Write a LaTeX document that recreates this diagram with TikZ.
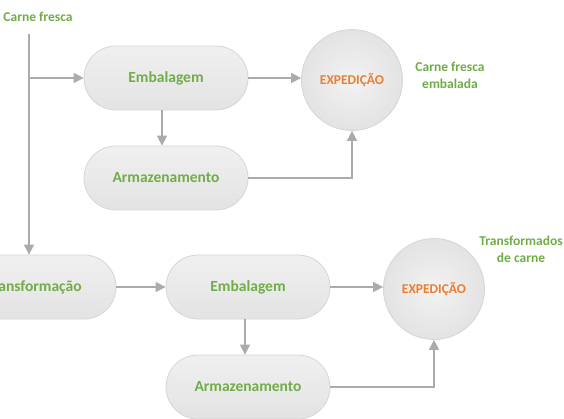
\documentclass[tikz,border=0pt]{standalone}
\usepackage{fontspec}
\setmainfont{Carlito}
\usetikzlibrary{arrows.meta,calc}
\definecolor{lblgreen}{HTML}{70AD47}
\definecolor{exporange}{HTML}{ED7D31}
\definecolor{linegray}{HTML}{ABABAB}
\definecolor{edgegray}{HTML}{D6D6D6}
\begin{document}
\begin{tikzpicture}[x=1pt,y=-1pt,
  pill/.style={rectangle, rounded corners=32pt, minimum width=164pt, minimum height=64pt,
    draw=edgegray, line width=0.8pt, top color=white!94!black, bottom color=white!89!black,
    font=\fontsize{15.5}{18}\selectfont\bfseries, text=lblgreen, inner sep=0pt},
  expcircle/.style={circle, minimum size=101pt, draw=edgegray, line width=0.8pt,
    inner color=white!95!black, outer color=white!89!black,
    font=\fontsize{13.5}{16}\selectfont\bfseries, text=exporange, inner sep=0pt},
  lbl/.style={font=\fontsize{13.5}{17}\selectfont\bfseries, text=lblgreen, align=center, inner sep=0pt},
  conn/.style={draw=linegray, line width=1.5pt},
  arr/.style={conn, -{Triangle[length=10pt,width=10pt]}}
]
\clip (0,0) rectangle (564,419);
\fill[white] (0,0) rectangle (564,419);

% top branch
\node[lbl] (cf) at (38,17) {Carne fresca};
\node[pill] (emb1) at (166,78) {Embalagem};
\node[pill] (arm1) at (166,178) {Armazenamento};
\node[expcircle] (exp1) at (352,80) {EXPEDIÇÃO};
\node[lbl] (cfe) at (450,75) {Carne fresca\\embalada};

% bottom branch
\node[pill] (transf) at (34,287) {Transformação};
\node[pill] (emb2) at (248,287) {Embalagem};
\node[pill] (arm2) at (248,387) {Armazenamento};
\node[expcircle] (exp2) at (434,289) {EXPEDIÇÃO};
\node[lbl] (tdc) at (521,249) {Transformados\\de carne};

\coordinate (top) at (29,34);
\coordinate (br) at (29,78);

\draw[arr] (top) -- (top |- transf.north);
\draw[arr] (br) -- (emb1.west);
\draw[arr] ([xshift=-4pt]emb1.south) -- ([xshift=-4pt]arm1.north);
\draw[arr] (emb1.east) -- (emb1.east -| exp1.west);
\draw[arr] (arm1.east) -| (exp1.south);

\draw[arr] (transf.east) -- (emb2.west);
\draw[arr] ([xshift=-3pt]emb2.south) -- ([xshift=-3pt]arm2.north);
\draw[arr] (emb2.east) -- (emb2.east -| exp2.west);
\draw[arr] (arm2.east) -| (exp2.south);
\end{tikzpicture}
\end{document}
